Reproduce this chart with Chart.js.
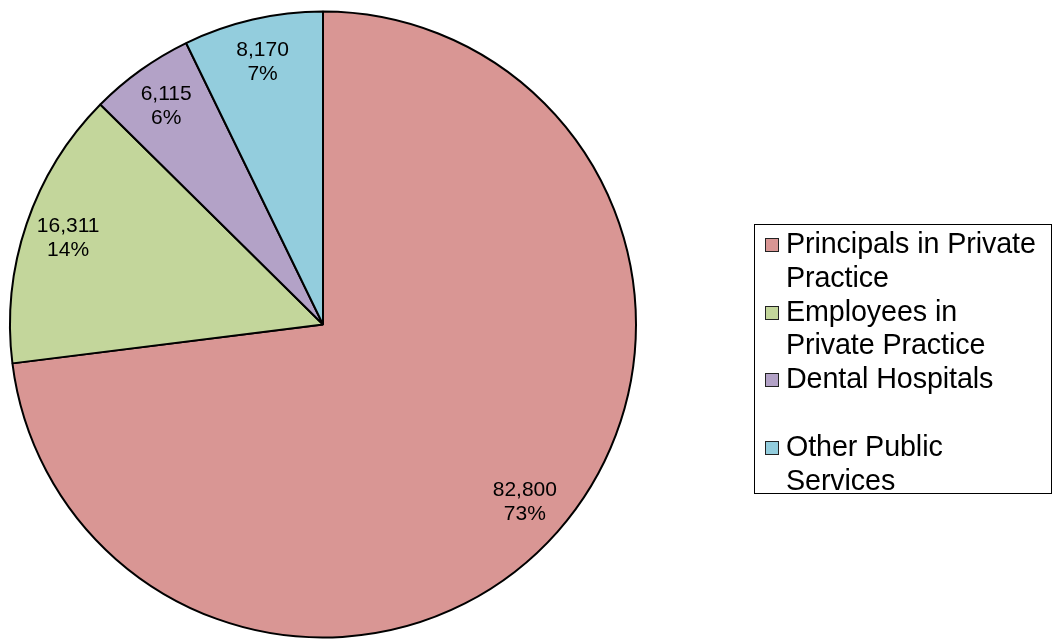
<!DOCTYPE html>
<html>
<head>
<meta charset="utf-8">
<script src="https://cdn.jsdelivr.net/npm/chart.js@4"></script>
<style>
    html, body { margin: 0; padding: 0; background: #fff; overflow: hidden; }
    #wrap { position: relative; width: 1055px; height: 640px; }
    #legend {
        position: absolute; left: 754px; top: 224px; width: 298px; height: 270px;
        box-sizing: border-box; border: 1.5px solid #000; background: #fff;
        padding-top: 2px;
        font-family: "Liberation Sans", Arial, sans-serif; font-size: 28.7px; color: #000;
    }
    .item { position: relative; padding-left: 31px; line-height: 33.8px; height: 67.6px; }
    .item span.box {
        position: absolute; left: 9.5px; top: 11px; width: 12px; height: 12px;
        border: 1px solid #222;
    }
    .item div { white-space: nowrap; height: 33.8px; letter-spacing: -0.1px; }
</style>
</head>
<body>
<div id="wrap">
    <canvas id="pieChart"></canvas>
    <div id="legend"></div>
</div>
<script>
// Chart data
const categories = ['Principals in Private Practice', 'Employees in Private Practice', 'Dental Hospitals', 'Other Public Services'];
const legendLines = [['Principals in Private', 'Practice'], ['Employees in', 'Private Practice'], ['Dental Hospitals', ''], ['Other Public', 'Services']];
const dentists = [82800, 16311, 6115, 8170];
const percentLabels = ['73%', '14%', '6%', '7%'];
const sliceColours = ['#D99694', '#C3D69B', '#B3A2C7', '#93CDDD'];

// Value + percent labels inside each slice
const sliceLabels = {
    id: 'sliceLabels',
    afterDatasetsDraw(chart) {
        const ctx = chart.ctx;
        const meta = chart.getDatasetMeta(0);
        ctx.save();
        ctx.font = '21px "Liberation Sans", Arial, sans-serif';
        ctx.fillStyle = '#000';
        ctx.textAlign = 'center';
        ctx.textBaseline = 'middle';
        meta.data.forEach((arc, i) => {
            const mid = (arc.startAngle + arc.endAngle) / 2;
            const r = arc.outerRadius * 0.86;
            const x = arc.x + Math.cos(mid) * r;
            const y = arc.y + Math.sin(mid) * r;
            ctx.fillText(dentists[i].toLocaleString('en-US'), x, y - 12);
            ctx.fillText(percentLabels[i], x, y + 12);
        });
        ctx.restore();
    }
};

function buildLegend() {
    const legend = document.getElementById('legend');
    categories.forEach((cat, i) => {
        const item = document.createElement('div');
        item.className = 'item';
        item.title = cat;
        const box = document.createElement('span');
        box.className = 'box';
        box.style.background = sliceColours[i];
        item.appendChild(box);
        legendLines[i].forEach(line => {
            const row = document.createElement('div');
            row.textContent = line;
            item.appendChild(row);
        });
        legend.appendChild(item);
    });
}

function initializeChart() {
    const ctx = document.getElementById('pieChart').getContext('2d');
    new Chart(ctx, {
        type: 'pie',
        data: {
            labels: categories,
            datasets: [{
                data: dentists,
                backgroundColor: sliceColours,
                borderColor: '#000',
                borderWidth: 2
            }]
        },
        options: {
            responsive: true,
            maintainAspectRatio: false,
            animation: false,
            layout: { padding: { left: 9, top: 9, right: 418, bottom: 0 } },
            plugins: {
                legend: { display: false },
                tooltip: { enabled: false }
            }
        },
        plugins: [sliceLabels]
    });
}

buildLegend();
initializeChart();
</script>
</body>
</html>
